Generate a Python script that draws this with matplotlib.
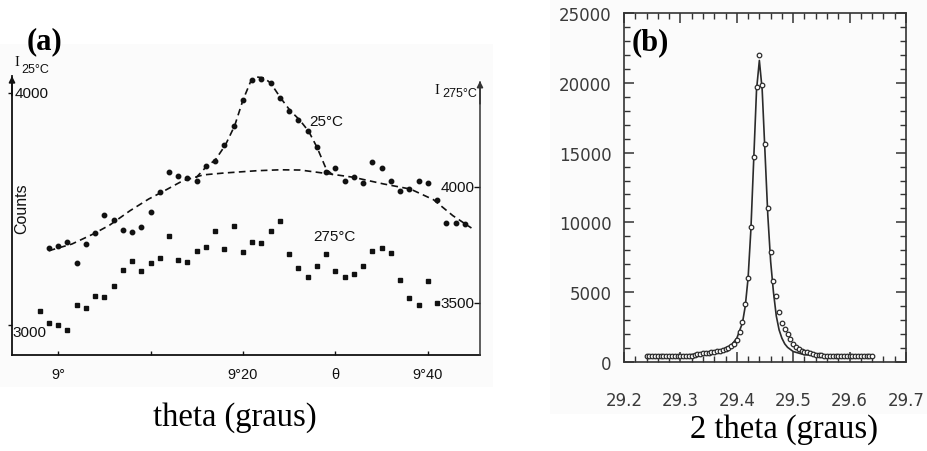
import matplotlib
matplotlib.use("Agg")
import matplotlib.pyplot as plt
import numpy as np
from matplotlib.patches import Rectangle
from matplotlib.ticker import MultipleLocator

W, H = 927, 452

# ---------------- panel (a) data (theta in arcmin past 9 deg) ----------------
t25_min = [-1, 0, 1, 2, 3, 4, 5, 6, 7, 8, 9, 10, 11, 12, 13, 14, 15, 16, 17, 18, 19, 20,
           21, 22, 23, 24, 25, 26, 27, 28, 29, 30, 31, 32, 33, 34, 35, 36, 37, 38, 39, 40,
           41, 42, 43, 44]
i25 = [3331, 3342, 3356, 3267, 3349, 3397, 3475, 3453, 3409, 3402, 3421, 3486, 3572, 3661,
       3641, 3634, 3622, 3687, 3706, 3776, 3859, 3970, 4056, 4060, 4042, 3977, 3924, 3885,
       3835, 3766, 3660, 3677, 3622, 3639, 3611, 3704, 3677, 3622, 3576, 3586, 3622, 3611,
       3539, 3440, 3440, 3435]

t275_min = [-2, -1, 0, 1, 2, 3, 4, 5, 6, 7, 8, 9, 10, 11, 12, 13, 14, 15, 16, 17, 18, 19,
            20, 21, 22, 23, 24, 25, 26, 27, 28, 29, 30, 31, 32, 33, 34, 35, 36, 37, 38, 39,
            40, 41]
i275 = [3467, 3414, 3406, 3385, 3491, 3477, 3531, 3527, 3572, 3644, 3680, 3637, 3674, 3695,
        3790, 3687, 3675, 3722, 3743, 3812, 3733, 3833, 3721, 3762, 3759, 3812, 3855, 3710,
        3651, 3611, 3659, 3711, 3639, 3611, 3626, 3661, 3723, 3736, 3714, 3600, 3522, 3491,
        3596, 3500]

# dashed background hump (I25 scale)
bg_min = [-1, 1.5, 3.8, 5.6, 7.8, 9.8, 11.2, 13.5, 15.7, 17.9, 21.5, 24.0, 26.2, 29.4,
          31.9, 35.2, 38.1, 40.6, 42.7, 44.7]
bg_val = [3320, 3349, 3392, 3431, 3493, 3543, 3572, 3622, 3647, 3655, 3665, 3669, 3668,
          3651, 3637, 3608, 3586, 3540, 3471, 3418]

# dashed 25 C peak curve
pk_min = [14.9, 16.1, 17.0, 18.1, 19.1, 20.0, 20.8, 21.5, 22.3, 23.0, 24.1, 25.1, 26.1,
          27.1, 28.0, 29.0, 29.7]
pk_val = [3634, 3685, 3711, 3776, 3859, 3970, 4047, 4069, 4065, 4042, 3977, 3924, 3885,
          3835, 3766, 3672, 3647]

xtick_min = [0, 10, 20, 30, 40]
xtick_labels = ["9°", "", "9°20", "θ", "9°40"]
left_ticks = [3000, 4000]
right_ticks = [3500, 4000]
right_offset = 405  # I275 axis offset relative to I25 axis

# ---------------- panel (b) data ----------------
tt = [29.240, 29.245, 29.250, 29.255, 29.260, 29.265, 29.270, 29.275, 29.280, 29.285,
      29.290, 29.295, 29.300, 29.305, 29.310, 29.315, 29.320, 29.325, 29.330, 29.335,
      29.340, 29.345, 29.350, 29.355, 29.360, 29.365, 29.370, 29.375, 29.380, 29.385,
      29.390, 29.395, 29.400, 29.405, 29.410, 29.415, 29.420, 29.425, 29.430, 29.435,
      29.440, 29.445, 29.450, 29.455, 29.460, 29.465, 29.470, 29.475, 29.480, 29.485,
      29.490, 29.495, 29.500, 29.505, 29.510, 29.515, 29.520, 29.525, 29.530, 29.535,
      29.540, 29.545, 29.550, 29.555, 29.560, 29.565, 29.570, 29.575, 29.580, 29.585,
      29.590, 29.595, 29.600, 29.605, 29.610, 29.615, 29.620, 29.625, 29.630, 29.635,
      29.640]
counts = [450, 450, 450, 450, 450, 450, 450, 450, 450, 450,
          450, 450, 450, 450, 450, 450, 450, 480, 560, 590,
          620, 650, 680, 720, 750, 770, 800, 860, 920, 990,
          1120, 1300, 1600, 2130, 2840, 4150, 6000, 9650, 14660, 19700,
          22000, 19840, 15600, 11000, 7900, 5800, 4750, 3600, 2800, 2360,
          2000, 1650, 1290, 1100, 930, 820, 740, 690, 620, 570,
          530, 490, 470, 450, 450, 450, 450, 450, 450, 450,
          450, 450, 450, 450, 450, 450, 450, 450, 450, 450,
          450]

fit_tt = [29.24, 29.30, 29.34, 29.37, 29.39, 29.40, 29.41, 29.415, 29.42, 29.425, 29.43,
          29.435, 29.44, 29.445, 29.45, 29.455, 29.46, 29.465, 29.47, 29.475, 29.48,
          29.485, 29.49, 29.50, 29.52, 29.56, 29.64]
fit_counts = [430, 470, 600, 800, 1200, 1700, 2800, 4000, 6000, 9500, 14500, 19500, 21600,
              19500, 15000, 10500, 7200, 5000, 3300, 2300, 1700, 1300, 1050, 750, 520,
              450, 430]

# ---------------- figure ----------------
fig = plt.figure(figsize=(W / 100, H / 100), dpi=100)
fig.patch.set_facecolor("white")


def fx(px):
    return px / W


def fy(py):
    return 1 - py / H


# faint scan backgrounds
fig.add_artist(Rectangle((0, fy(388)), fx(493), (388 - 45) / H, transform=fig.transFigure,
                         facecolor="#fbfbfb", edgecolor="none", zorder=-5))
fig.add_artist(Rectangle((fx(550), fy(415)), (W - 550) / W, 415 / H, transform=fig.transFigure,
                         facecolor="#fbfbfb", edgecolor="none", zorder=-5))

SANS = ["Liberation Sans", "DejaVu Sans"]
SERIF = ["Liberation Serif", "DejaVu Serif"]
INK = "#111111"

# ---------------- panel (a) ----------------
ax_l, ax_r, ax_b, ax_t = 12, 480, 356, 77
ax = fig.add_axes([fx(ax_l), fy(ax_b), (ax_r - ax_l) / W, (ax_b - ax_t) / H])
ax.set_facecolor("none")

def deg(mins):
    return 9 + np.asarray(mins, dtype=float) / 60.0

y_lo, y_hi = 2870.7, 4073.3
ax.set_xlim(8.9171, 9.7604)
ax.set_ylim(y_lo, y_hi)

dash = (0, (4, 2.6))
ax.plot(deg(bg_min), bg_val, color=INK, lw=1.2, ls=dash)
ax.plot(deg(pk_min), pk_val, color=INK, lw=1.2, ls=dash)
ax.plot(deg(t25_min), i25, "o", ms=3.2, color=INK, mec=INK)

ax.spines["top"].set_visible(False)
ax.spines["right"].set_visible(False)
for s in ("left", "bottom"):
    ax.spines[s].set_linewidth(1.3)
    ax.spines[s].set_color(INK)

ax.set_xticks(deg(xtick_min))
ax.set_xticklabels(xtick_labels, fontfamily=SANS, fontsize=10.5, color=INK)
ax.tick_params(axis="x", direction="in", length=3, width=1, pad=9, colors=INK)
ax.set_yticks(left_ticks)
ax.set_yticklabels([])
ax.tick_params(axis="y", direction="out", length=3, width=1, colors=INK)

ytr = ax.get_yaxis_transform()
ax.text(0.006, left_ticks[1], "4000", transform=ytr, ha="left", va="center",
        fontsize=11, family=SANS, color=INK)
ax.text(0.0, left_ticks[0], "3000", transform=ytr, ha="left", va="top",
        fontsize=11, family=SANS, color=INK)

ax2 = ax.twinx()
ax2.set_ylim(y_lo + right_offset, y_hi + right_offset)
ax2.plot(deg(t275_min), i275, "s", ms=2.7, color=INK, mec=INK)
for s in ("top", "left", "bottom"):
    ax2.spines[s].set_visible(False)
ax2.spines["right"].set_linewidth(1.1)
ax2.spines["right"].set_color("#333333")
ax2.spines["right"].set_bounds(y_lo + right_offset, y_lo + right_offset + (ax_b - 83) / 0.232)
ax2.set_yticks(right_ticks)
ax2.set_yticklabels([])
ax2.tick_params(axis="y", direction="in", length=4, width=1, colors=INK)
ytr2 = ax2.get_yaxis_transform()
for v in right_ticks:
    ax2.text(0.989, v, str(v), transform=ytr2, ha="right", va="center",
             fontsize=11, family=SANS, color=INK)

# axis arrows
ax.annotate("", xy=(0, 1), xytext=(0, 0.93), xycoords="axes fraction",
            arrowprops=dict(arrowstyle="-|>", color=INK, lw=1.2, mutation_scale=9,
                            shrinkA=0, shrinkB=0))
ax.annotate("", xy=(1, (ax_b - 82) / (ax_b - ax_t)), xytext=(1, 0.9), xycoords="axes fraction",
            arrowprops=dict(arrowstyle="-|>", color="#333333", lw=1.1, mutation_scale=9,
                            shrinkA=0, shrinkB=0))

# in-plot labels (a)
fig.text(fx(326), fy(122), "25°C", ha="center", va="center", fontsize=11, family=SANS, color=INK)
fig.text(fx(334), fy(237), "275°C", ha="center", va="center", fontsize=11, family=SANS, color=INK)
fig.text(fx(17), fy(63), "I", ha="center", va="center", fontsize=10.5, family=SERIF, color=INK)
fig.text(fx(35), fy(70), "25°C", ha="center", va="center", fontsize=9, family=SANS, color=INK)
fig.text(fx(437), fy(91), "I", ha="center", va="center", fontsize=10.5, family=SERIF, color=INK)
fig.text(fx(460), fy(94), "275°C", ha="center", va="center", fontsize=9, family=SANS, color=INK)
fig.text(fx(22), fy(209), "Counts", ha="center", va="center", rotation=90, fontsize=11.5,
         family=SANS, color=INK)
fig.text(fx(44), fy(42), "(a)", ha="center", va="center", fontsize=22, fontweight="bold",
         family=SERIF, color="black")
fig.text(fx(235), fy(426), "theta (graus)", ha="center", va="baseline", fontsize=23.5,
         family=SERIF, color="black")

# ---------------- panel (b) ----------------
bl, br, bt, bb = 624, 906, 14, 363
axb = fig.add_axes([fx(bl), fy(bb), (br - bl) / W, (bb - bt) / H])
axb.set_facecolor("none")
GR = "#2b2b2b"
axb.plot(fit_tt, fit_counts, color=GR, lw=1.2, zorder=2)
axb.plot(tt, counts, "o", ms=3.3, mfc="white", mec=GR, mew=0.9, zorder=3)
axb.set_xlim(29.2, 29.7)
axb.set_ylim(0, 25000)
axb.set_xticks([29.2, 29.3, 29.4, 29.5, 29.6, 29.7])
axb.set_xticklabels(["29.2", "29.3", "29.4", "29.5", "29.6", "29.7"])
axb.set_yticks([0, 5000, 10000, 15000, 20000, 25000])
axb.xaxis.set_minor_locator(MultipleLocator(0.02))
axb.yaxis.set_minor_locator(MultipleLocator(1000))
axb.tick_params(which="both", direction="in", top=True, right=True, colors="#333333",
                labelcolor="#3a3a3a", labelsize=12)
axb.tick_params(which="major", length=7, width=1.1)
axb.tick_params(which="minor", length=4, width=1.0)
axb.tick_params(axis="x", which="major", pad=21)
axb.tick_params(axis="y", which="major", pad=9)
for lab in axb.get_xticklabels() + axb.get_yticklabels():
    lab.set_family(["DejaVu Sans"])
for s in axb.spines.values():
    s.set_linewidth(1.2)
    s.set_color("#333333")

fig.text(fx(650), fy(43), "(b)", ha="center", va="center", fontsize=22, fontweight="bold",
         family=SERIF, color="black")
fig.text(fx(784), fy(438), "2 theta (graus)", ha="center", va="baseline", fontsize=23.5,
         family=SERIF, color="black")

fig.savefig("out.png", dpi=100, facecolor="white")
